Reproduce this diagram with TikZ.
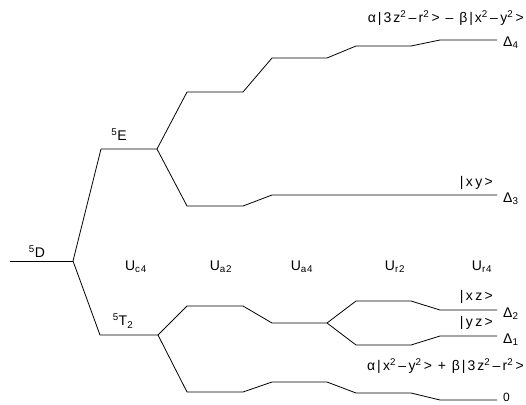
\documentclass[tikz,border=0pt]{standalone}
\usepackage{fontspec}
\setmainfont{Liberation Sans}
\newcommand{\sq}{\textsuperscript{2}}
\begin{document}
\begin{tikzpicture}[x=1pt,y=-1pt,
  lvl/.style={line width=0.8pt, line join=round},
  lab/.style={font=\fontsize{14}{16}\selectfont\addfontfeatures{LetterSpace=8}, inner sep=0pt},
  wide/.style={font=\fontsize{14}{16}\selectfont\addfontfeatures{LetterSpace=14}, inner sep=0pt}]
\useasboundingbox (0,0) rectangle (526,404);
% branch points
\coordinate (D0) at (10,261);
\coordinate (Ds) at (73,261);
\coordinate (E0) at (101,149);
\coordinate (Es) at (157,149);
\coordinate (T0) at (100,335);
\coordinate (Ts) at (158,335);
\coordinate (Tsp) at (327,323);
% ends
\coordinate (L4) at (497,40);
\coordinate (L3) at (497,195);
\coordinate (L2) at (497,310);
\coordinate (L1) at (497,336);
\coordinate (L0) at (497,400);

\draw[lvl] (D0) -- (Ds);
\draw[lvl] (Ds) -- (E0) -- (Es);
\draw[lvl] (Ds) -- (T0) -- (Ts);
% E upper
\draw[lvl] (Es) -- (187,92) -- (243,92) -- (272,58) -- (327,58) -- (356,46) -- (411,46) -- (440,40) -- (L4);
% E lower
\draw[lvl] (Es) -- (187,206) -- (243,206) -- (272,195) -- (L3);
% T2 upper
\draw[lvl] (Ts) -- (187,306) -- (243,306) -- (272,323) -- (Tsp);
\draw[lvl] (Tsp) -- (356,301) -- (411,301) -- (440,310) -- (L2);
\draw[lvl] (Tsp) -- (356,345) -- (411,345) -- (440,336) -- (L1);
% T2 lower
\draw[lvl] (Ts) -- (187,392) -- (243,392) -- (272,382) -- (327,382) -- (356,393) -- (411,393) -- (440,400) -- (L0);

% labels
\node[lab] (n5D) at (37,252) {\textsuperscript{5}D};
\node[lab] (n5E) at (119,135) {\textsuperscript{5}E};
\node[lab] (n5T) at (123,321) {\textsuperscript{5}T\textsubscript{2}};
\node[lab] (uc4) at (136,267) {U\textsubscript{c4}};
\node[lab] (ua2) at (221,267) {U\textsubscript{a2}};
\node[lab] (ua4) at (302,267) {U\textsubscript{a4}};
\node[lab] (ur2) at (395,267) {U\textsubscript{r2}};
\node[lab] (ur4) at (482,267) {U\textsubscript{r4}};

\node[wide, anchor=east] (top) at (524,18) {α|3z\sq\,–\,r\sq\,> – β|x\sq\,–\,y\sq\,>};
\node[lab, anchor=west] (d4) at ([xshift=6pt,yshift=-3pt]L4) {Δ\textsubscript{4}};
\node[wide, anchor=east] (xy) at (493,183) {|\,x\,y\,>};
\node[lab, anchor=west] (d3) at ([xshift=6pt,yshift=-4pt]L3) {Δ\textsubscript{3}};
\node[wide, anchor=east] (xz) at (493,297) {|\,x\,z\,>};
\node[lab, anchor=west] (d2) at ([xshift=6pt,yshift=-4pt]L2) {Δ\textsubscript{2}};
\node[wide, anchor=east] (yz) at (493,323) {|\,y\,z\,>};
\node[lab, anchor=west] (d1) at ([xshift=6pt,yshift=-4pt]L1) {Δ\textsubscript{1}};
\node[wide, anchor=east] (bot) at (524,366) {α|\,x\sq\,–\,y\sq\,> + β|3z\sq\,–\,r\sq\,>};
\node[lab, anchor=west, font=\fontsize{12}{14}\selectfont] (z0) at ([xshift=6pt,yshift=3pt]L0) {0};
\end{tikzpicture}
\end{document}
